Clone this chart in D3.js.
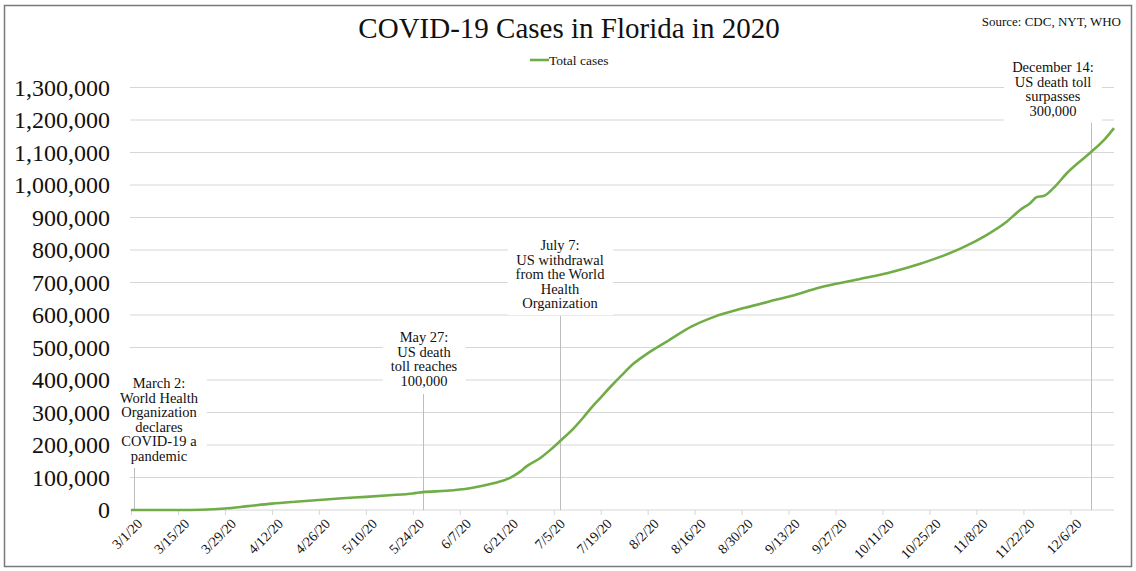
<!DOCTYPE html>
<html>
<head>
<meta charset="utf-8">
<script src="https://cdn.jsdelivr.net/npm/d3@7"></script>
<style>
  body { margin: 0; background: #fff; }
  text { font-family: "Liberation Serif", "DejaVu Serif", serif; fill: #111; }
</style>
</head>
<body>
<svg id="chart"></svg>
<script>
const width = 1136, height = 571;

// total cases
const dates = ["3/1/20","3/8/20","3/15/20","3/22/20","3/29/20","4/5/20","4/12/20","4/19/20","4/26/20",
  "5/3/20","5/10/20","5/17/20","5/24/20","5/27/20","6/3/20","6/10/20","6/17/20","6/22/20","6/25/20",
  "6/27/20","7/1/20","7/4/20","7/7/20","7/11/20","7/14/20","7/16/20","7/19/20","7/22/20","7/25/20",
  "7/29/20","8/2/20","8/8/20","8/15/20","8/22/20","8/31/20","9/7/20","9/14/20","9/22/20","10/4/20",
  "10/14/20","10/22/20","10/29/20","11/4/20","11/11/20","11/17/20","11/21/20","11/24/20","11/26/20",
  "11/28/20","12/1/20","12/5/20","12/12/20","12/16/20","12/19/20"];
const cases = [0,20,100,1000,4500,12000,19500,25500,31000,
  36000,40500,45500,51000,55000,59000,67000,82000,99000,118000,
  135000,160000,185000,213000,252000,287000,312000,346000,380000,412000,
  452000,482000,520000,564000,595000,622000,641000,659000,684000,710000,
  733000,757000,782000,808000,846000,887000,923000,944000,963000,
  966000,991000,1037000,1100000,1138000,1175000];

const xTickLabels = ["3/1/20","3/15/20","3/29/20","4/12/20","4/26/20","5/10/20","5/24/20","6/7/20",
  "6/21/20","7/5/20","7/19/20","8/2/20","8/16/20","8/30/20","9/13/20","9/27/20","10/11/20",
  "10/25/20","11/8/20","11/22/20","12/6/20"];
const yTicks = d3.range(0, 1300001, 100000);

const noteDates = ["3/2/20","5/27/20","7/7/20","12/12/20"];
const noteTexts = [
  ["March 2:","World Health","Organization","declares","COVID-19 a","pandemic"],
  ["May 27:","US death","toll reaches","100,000"],
  ["July 7:","US withdrawal","from the World","Health","Organization"],
  ["December 14:","US death toll","surpasses","300,000"]
];
// label box placement: centre x, first line y, where the marker line starts
const noteLayout = [
  {cx: 159, y: 383, lineTop: 468},
  {cx: 424, y: 337, lineTop: 394},
  {cx: 560, y: 245, lineTop: 316},
  {cx: 1053, y: 67, lineTop: 118}
];

const parse = d3.timeParse("%m/%d/%y");
const series = dates.map((d, i) => ({date: parse(d), value: cases[i]}));

const svg = d3.select("#chart").attr("width", width).attr("height", height);

svg.append("rect")
    .attr("x", 4.5).attr("y", 5.5)
    .attr("width", 1127).attr("height", 561)
    .attr("fill", "#fff").attr("stroke", "#7a7a7a").attr("stroke-width", 1.5);

const x = d3.scaleTime()
    .domain([parse("3/1/20"), parse("12/19/20")])
    .range([131, 1114]);
const y = d3.scaleLinear()
    .domain([0, 1300000])
    .range([510, 87.5]);

// gridlines
svg.append("g").selectAll("line")
    .data(yTicks)
    .enter().append("line")
    .attr("x1", 130).attr("x2", 1114)
    .attr("y1", d => y(d)).attr("y2", d => y(d))
    .attr("stroke", "#d6d6d6").attr("stroke-width", 1);

// y axis labels
const yAxis = svg.append("g")
    .attr("transform", "translate(130,0)")
    .call(d3.axisLeft(y).tickValues(yTicks).tickSize(0).tickPadding(20).tickFormat(d3.format(",")));
yAxis.select(".domain").remove();
yAxis.selectAll("text")
    .attr("font-size", "24px")
    .attr("font-family", "Liberation Serif, serif")
    .attr("fill", "#111");

// x axis
const xAxis = svg.append("g")
    .attr("transform", "translate(0,510)")
    .call(d3.axisBottom(x)
        .tickValues(xTickLabels.map(parse))
        .tickSize(5)
        .tickFormat(d3.timeFormat("%-m/%-d/%y")));
xAxis.select(".domain").remove();
xAxis.selectAll("line").attr("stroke", "#d6d6d6");
xAxis.selectAll("text")
    .attr("font-size", "14px")
    .attr("font-family", "Liberation Serif, serif")
    .attr("fill", "#222")
    .attr("text-anchor", "end")
    .attr("dy", "0.3em")
    .attr("transform", "translate(3,6) rotate(-45)");

// annotations
noteDates.forEach((d, i) => {
    const lay = noteLayout[i];
    const px = Math.round(x(parse(d))) + 0.5;
    svg.append("line")
        .attr("x1", px).attr("x2", px)
        .attr("y1", lay.lineTop).attr("y2", 510)
        .attr("stroke", "#bdbdbd").attr("stroke-width", 1);

    const g = svg.append("g");
    const t = g.append("text")
        .attr("text-anchor", "middle")
        .attr("font-size", "14.5px");
    t.selectAll("tspan")
        .data(noteTexts[i])
        .enter().append("tspan")
        .attr("x", lay.cx)
        .attr("y", (s, j) => lay.y + j * 14.5)
        .attr("dy", "0.35em")
        .text(s => s);
    const bb = t.node().getBBox();
    g.insert("rect", "text")
        .attr("x", bb.x - 8).attr("y", bb.y - 4)
        .attr("width", bb.width + 16).attr("height", bb.height + 8)
        .attr("fill", "#fff");
});

// the line
const line = d3.line()
    .x(d => x(d.date))
    .y(d => y(d.value))
    .curve(d3.curveMonotoneX);

svg.append("path")
    .datum(series)
    .attr("d", line)
    .attr("fill", "none")
    .attr("stroke", "#70ad47")
    .attr("stroke-width", 2.6)
    .attr("stroke-linejoin", "round");

// title, legend, source
svg.append("text")
    .attr("x", 569).attr("y", 38)
    .attr("text-anchor", "middle")
    .attr("font-size", "29px")
    .attr("fill", "#000")
    .text("COVID-19 Cases in Florida in 2020");

svg.append("line")
    .attr("x1", 530).attr("x2", 549)
    .attr("y1", 60).attr("y2", 60)
    .attr("stroke", "#70ad47").attr("stroke-width", 2.6);
svg.append("text")
    .attr("x", 549).attr("y", 64.5)
    .attr("font-size", "13.5px")
    .text("Total cases");

svg.append("text")
    .attr("x", 1121).attr("y", 26)
    .attr("text-anchor", "end")
    .attr("font-size", "13px")
    .text("Source: CDC, NYT, WHO");
</script>
</body>
</html>
